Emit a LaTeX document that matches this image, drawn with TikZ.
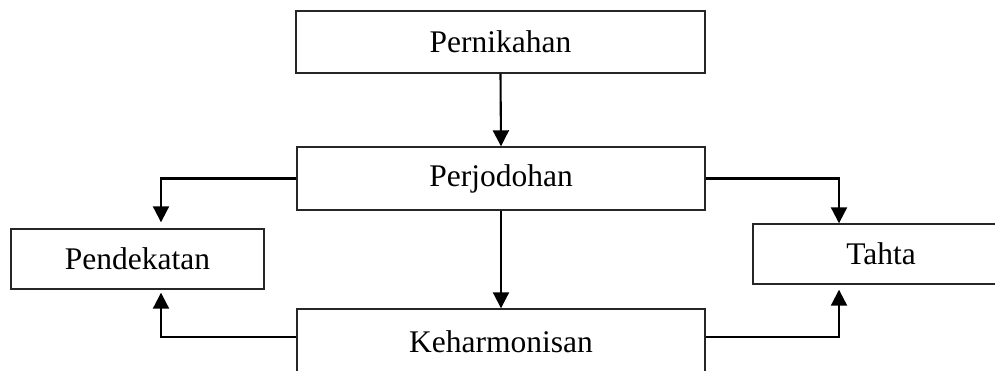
\documentclass[tikz,border=0pt]{standalone}
\usepackage{fontspec}
\setmainfont{Liberation Serif}
\usetikzlibrary{arrows.meta,calc}
\begin{document}
\begin{tikzpicture}[x=1pt,y=-1pt,
  box/.style={draw=black!85, line width=1.4pt, rectangle, inner sep=0pt,
    font=\fontsize{31.5}{36}\selectfont},
  link/.style={draw=black, line width=2.1pt,
    -{Triangle[length=16pt,width=16pt]}}]
\useasboundingbox (0,0) rectangle (995,371);
\clip (0,0) rectangle (995,371);
\node[box, minimum width=409pt, minimum height=62pt] (nikah) at (500.5,42) {Pernikahan};
\node[box, minimum width=408pt, minimum height=63pt] (jodoh) at (501,178.5) {Perjodohan};
\node[box, minimum width=253pt, minimum height=60pt] (dekat) at (137.5,259) {Pendekatan};
\node[box, minimum width=256pt, minimum height=60pt] (tahta) at (881,254) {Tahta};
\node[box, minimum width=408pt, minimum height=66pt] (harmoni) at (501,342) {Keharmonisan};
% vertical flow
\draw[link] (nikah.south) -- (jodoh.north);
\draw[link] (jodoh.south) -- (harmoni.north);
% branches to the sides
\draw[link] (jodoh.west) -| ([xshift=23.5pt,yshift=6pt]dekat.north);
\draw[link] (jodoh.east) -| ([xshift=-42pt]tahta.north);
\draw[link] ([yshift=5pt]harmoni.west) -| ([xshift=23.5pt,yshift=-3pt]dekat.south);
\draw[link] ([yshift=5pt]harmoni.east) -| ([xshift=-42pt,yshift=-5pt]tahta.south);
\end{tikzpicture}
\end{document}
